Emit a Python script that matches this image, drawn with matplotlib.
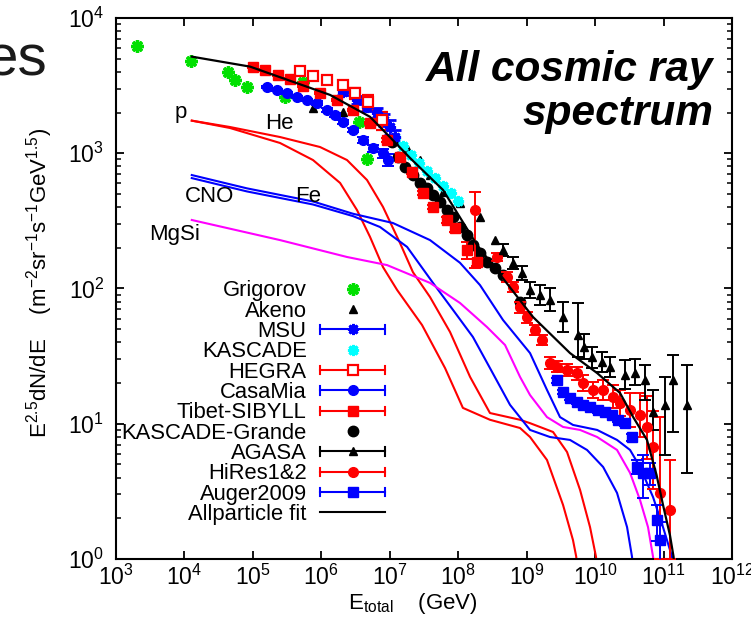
import numpy as np
import matplotlib
matplotlib.use("Agg")
import matplotlib.pyplot as plt
from matplotlib.lines import Line2D
from matplotlib.legend_handler import HandlerBase
from matplotlib.ticker import LogLocator, NullLocator, NullFormatter

plt.rcParams['font.family'] = ['Liberation Sans', 'DejaVu Sans']
plt.rcParams['mathtext.fontset'] = 'custom'
plt.rcParams['mathtext.rm'] = 'Liberation Sans'
plt.rcParams['mathtext.it'] = 'Liberation Sans:italic'
plt.rcParams['mathtext.bf'] = 'Liberation Sans:bold'
plt.rcParams['mathtext.default'] = 'regular'

# ---------------- data ----------------
grig_E = [2.0e3, 1.23e4, 4.3e4, 5.5e4, 8.1e4, 2.95e5, 5.4e5, 3.6e6, 4.6e6]
grig_F = [6240, 4810, 3970, 3480, 3080, 2610, 3370, 1700, 900]

akeno_E = [7.55e5, 2.07e6, 1.85e7, 2.77e7, 3.87e7, 6.0e7, 1.06e8, 2.08e8, 3.45e8]
akeno_F = [2160, 2020, 1057, 891, 690, 517, 428, 338, 228]

msu_E = [2.07e6, 3.32e6, 4.65e6, 6.5e6, 8.24e6, 1.01e7, 1.19e7]
msu_F = [2840, 2480, 2200, 1990, 1760, 1560, 1320]
msu_rel = [0.05, 0.06, 0.07, 0.08, 0.10, 0.12, 0.12]

kascade_E = [1.19e7, 1.56e7, 2.04e7, 2.67e7, 3.50e7, 4.58e7, 6.0e7, 7.85e7, 9.94e7]
kascade_F = [1300, 1130, 971, 847, 739, 656, 573, 508, 444]

hegra_E = [4.9e5, 7.55e5, 1.21e6, 2.07e6, 3.1e6, 4.81e6, 7.7e6]
hegra_F = [4060, 3720, 3480, 3200, 2790, 2390, 1760]
hegra_rel = [0.03, 0.04, 0.05, 0.07, 0.09, 0.12, 0.15]

casamia_E = [1.61e5, 2.25e5, 3.15e5, 4.42e5, 6.18e5, 8.65e5, 1.21e6, 1.58e6,
             2.07e6, 2.9e6, 4.06e6, 5.69e6, 7.96e6, 9.4e6]
casamia_F = [3090, 2940, 2790, 2610, 2480, 2350, 2090, 1920, 1700, 1490, 1250,
             1090, 1000, 891]
casamia_rel = [0.02, 0.02, 0.02, 0.02, 0.02, 0.03, 0.03, 0.03, 0.04, 0.04,
               0.05, 0.06, 0.08, 0.10]

tibet_E = [1.0e5, 1.5e5, 2.33e5, 3.49e5, 5.4e5, 9.57e5, 1.69e6, 2.9e6, 5.14e6,
           9.12e6, 1.41e7, 2.12e7, 3.06e7, 4.28e7, 6.86e7, 8.97e7, 1.34e8, 1.88e8]
tibet_F = [4350, 4130, 3790, 3540, 3140, 2790, 2480, 2090, 1670, 1250, 938, 726,
           508, 401, 321, 280, 193, 157]
tibet_rel = [0.02, 0.02, 0.02, 0.02, 0.02, 0.02, 0.02, 0.02, 0.02, 0.03, 0.03,
             0.03, 0.04, 0.04, 0.05, 0.06, 0.15, 0.06]

kg_E = [1.08e7, 1.32e7, 1.67e7, 2.19e7, 2.77e7, 3.50e7, 4.28e7, 5.42e7, 6.86e7,
        8.4e7, 1.06e8, 1.34e8, 1.64e8, 2.08e8, 2.63e8, 3.45e8, 4.51e8, 8.0e8]
kg_F = [1210, 938, 791, 690, 603, 553, 491, 436, 380, 338, 285, 249, 210, 183,
        157, 142, 126, 79.4]

agasa_E = [4.51e8, 6.31e8, 8.55e8, 1.12e9, 1.57e9, 2.19e9, 3.40e9, 5.62e9, 6.89e9,
           9.0e9, 1.26e10, 1.65e10, 2.74e10, 3.83e10, 5.36e10, 7.02e10, 1.05e11,
           1.37e11, 2.2e11]
agasa_F = [193, 155, 130, 97.5, 89.5, 82.2, 61.5, 45.3, 36.9, 31.2, 28.6, 26.3,
           22.9, 23.7, 21.0, 12.2, 13.8, 21.0, 13.8]
agasa_lo = [175, 140, 115, 85, 75, 68, 48, 31, 30, 26, 24, 22, 18, 19.5, 15,
            9.0, 5.9, 8.7, 4.3]
agasa_hi = [213, 172, 147, 112, 107, 100, 80, 78, 46, 37, 34, 31, 29.6, 30, 27,
            17.8, 22.2, 32.2, 27.2]

hires_E = [1.76e8, 3.69e8, 5.17e8, 6.31e8, 8.0e8, 1.01e9, 1.32e9, 1.68e9, 2.19e9,
           2.78e9, 3.89e9, 5.44e9, 6.66e9, 9.3e9, 1.31e10, 1.83e10, 2.31e10,
           3.24e10, 4.53e10, 5.73e10, 7.02e10, 8.87e10, 1.24e11]
hires_F = [380, 171, 122, 103, 73, 61.5, 49.3, 41.6, 28.1, 26.3, 25.0, 23.7, 20.0,
           17.8, 17.8, 15.8, 14.3, 12.6, 11.6, 9.47, 6.73, 3.08, 2.30]
hires_lo = [142, 160, 112, 95, 66, 56, 45, 38, 25.5, 24, 22.5, 21, 17.5, 15.5, 15,
            13, 11.5, 9.5, 8.0, 5.5, 3.3, 1.0, 1.0]
hires_hi = [517, 183, 133, 112, 80, 67, 54, 45.5, 31, 29, 27.7, 26.5, 23, 20.5,
            21, 19.2, 17.8, 17.0, 17.0, 16, 12.5, 11.2, 5.4]

auger_E = [2.78e9, 3.40e9, 4.30e9, 5.44e9, 6.66e9, 8.43e9, 1.10e10, 1.40e10,
           1.77e10, 2.16e10, 2.74e10, 3.46e10, 4.10e10, 5.01e10, 6.34e10, 8.02e10,
           8.87e10]
auger_F = [21.0, 17.2, 15.5, 14.5, 13.8, 13.3, 12.6, 12.2, 11.6, 10.7, 10.1, 7.98,
           4.79, 4.33, 4.33, 1.94, 1.38]
auger_rel = [0.04, 0.04, 0.04, 0.04, 0.04, 0.04, 0.04, 0.04, 0.04, 0.04, 0.05,
             0.06, 0.12, 0.35, 0.18, 0.3, 0.35]

fit_E = [1.28e4, 9.1e4, 1.34e6, 5.14e6, 1.11e7, 1.98e7, 6.0e7, 1.88e8, 1.24e9,
         4.30e9, 1.07e10, 2.31e10, 3.6e10, 5.73e10, 7.9e10, 9.82e10, 1.24e11,
         1.4e11, 1.45e11]
fit_F = [5180, 4370, 2700, 1860, 1250, 922, 535, 210, 61.5, 33.3, 23.7, 16.9,
         11.2, 7.59, 4.18, 2.51, 1.50, 1.04, 0.8]

p_E = [1.28e4, 4.63e4, 2.49e5, 7.55e5, 1.88e6, 3.32e6, 5.14e6, 7.96e6, 1.28e7,
       2.96e7, 6.42e7, 1.17e8, 2.91e8, 8.0e8, 1.12e9, 1.98e9, 3.40e9, 4.75e9,
       5.3e9, 5.5e9]
p_F = [1742, 1537, 1191, 891, 603, 380, 241, 144, 97.5, 53.7, 25.8, 13.1, 10.7,
       9.3, 7.98, 5.40, 2.51, 1.38, 1.04, 0.8]

he_E = [1.28e4, 4.63e4, 2.49e5, 9.57e5, 2.37e6, 4.65e6, 7.96e6, 1.41e7, 2.18e7,
        3.87e7, 7.59e7, 1.49e8, 2.91e8, 8.0e8, 1.12e9, 2.43e9, 3.89e9, 6.03e9,
        8.43e9, 1.03e10, 1.08e10]
he_F = [1742, 1563, 1318, 1112, 891, 634, 401, 217, 132, 86.5, 47.7, 22.2, 12.0,
        10.7, 10.1, 8.69, 6.18, 3.24, 1.72, 1.04, 0.8]

cno_E = [1.28e4, 8.2e4, 7.55e5, 2.90e6, 7.19e6, 1.79e7, 4.28e7, 8.40e7, 1.64e8,
         2.91e8, 5.71e8, 1.12e9, 2.19e9, 4.30e9, 7.62e9, 1.31e10, 2.09e10,
         2.93e10, 3.46e10, 3.6e10]
cno_F = [655, 522, 418, 343, 285, 203, 110, 69.4, 43.8, 25.8, 13.8, 9.0, 7.98,
         7.59, 6.40, 4.79, 3.08, 1.72, 1.04, 0.8]

fe_E = [1.28e4, 8.2e4, 7.55e5, 2.90e6, 1.11e7, 3.87e7, 1.06e8, 2.08e8, 4.51e8,
        1.12e9, 1.98e9, 3.07e9, 4.75e9, 1.07e10, 2.09e10, 3.24e10, 4.53e10,
        7.02e10, 9.82e10, 1.33e11, 1.4e11]
fe_F = [690, 550, 440, 357, 305, 228, 155, 106, 58.5, 33.3, 17.8, 11.2, 9.80,
        9.00, 7.59, 6.40, 4.79, 2.87, 1.72, 1.04, 0.8]

mgsi_E = [1.28e4, 2.49e5, 2.37e6, 9.12e6, 3.87e7, 1.06e8, 2.63e8, 4.83e8, 8.0e8,
          1.12e9, 1.98e9, 3.40e9, 6.03e9, 1.07e10, 2.09e10, 3.24e10, 4.53e10,
          5.93e10, 7.02e10, 7.3e10]
mgsi_F = [321, 228, 171, 149, 110, 78.2, 51.9, 38.2, 22.2, 16.3, 11.2, 9.47, 9.00,
          7.98, 6.40, 4.33, 2.73, 1.72, 1.04, 0.8]

legend_labels = ["Grigorov", "Akeno", "MSU", "KASCADE", "HEGRA", "CasaMia",
                 "Tibet-SIBYLL", "KASCADE-Grande", "AGASA", "HiRes1&2",
                 "Auger2009", "Allparticle fit"]

# ---------------- styling ----------------
RED, BLUE, MAG, GRN, CYN, BLK = '#ff0000', '#0000ff', '#ff00ff', '#00e000', '#00ffff', '#000000'
AST = (8, 2, 0)

fig = plt.figure(figsize=(7.51, 6.23), dpi=100)
ax = fig.add_axes([0.15446, 0.10273, 0.82024, 0.86838])
ax.set_xscale('log')
ax.set_yscale('log')
ax.set_xlim(1e3, 1e12)
ax.set_ylim(1, 1e4)

# component curves
lw_c = 1.5
ax.plot(p_E, p_F, color=RED, lw=lw_c, zorder=2)
ax.plot(he_E, he_F, color=RED, lw=lw_c, zorder=2)
ax.plot(cno_E, cno_F, color=BLUE, lw=lw_c, zorder=2)
ax.plot(fe_E, fe_F, color=BLUE, lw=lw_c, zorder=2)
ax.plot(mgsi_E, mgsi_F, color=MAG, lw=lw_c, zorder=2)


def rel_err(F, rel):
    F = np.asarray(F, float)
    r = np.asarray(rel, float)
    return [F * r, F * r]


def abs_err(F, lo, hi):
    F = np.asarray(F, float)
    return [F - np.asarray(lo, float), np.asarray(hi, float) - F]


eb = dict(elinewidth=1.4, capthick=1.4, capsize=4.5, linestyle='none', zorder=3)

ax.plot(grig_E, grig_F, linestyle='none', marker=AST, ms=9, mew=2.4, color=GRN, zorder=3)
ax.plot(akeno_E, akeno_F, linestyle='none', marker='^', ms=5.5, color=BLK, zorder=3)
ax.errorbar(casamia_E, casamia_F, yerr=rel_err(casamia_F, casamia_rel), marker='o',
            ms=7, color=BLUE, **eb)
ax.errorbar(msu_E, msu_F, yerr=rel_err(msu_F, msu_rel), marker=AST, ms=8, mew=2.0,
            color=BLUE, **eb)
ax.errorbar(hegra_E, hegra_F, yerr=rel_err(hegra_F, hegra_rel), marker='s', ms=7.5,
            mfc='white', mec=RED, mew=1.6, color=RED, **eb)
ax.errorbar(tibet_E, tibet_F, yerr=rel_err(tibet_F, tibet_rel), marker='s', ms=7,
            color=RED, **eb)
ax.plot(kascade_E, kascade_F, linestyle='none', marker=AST, ms=8, mew=2.2, color=CYN, zorder=3)
ax.plot(kg_E, kg_F, linestyle='none', marker='o', ms=7.5, color=BLK, zorder=3)
ax.errorbar(hires_E, hires_F, yerr=abs_err(hires_F, hires_lo, hires_hi), marker='o',
            ms=7, color=RED, **eb)
ax.errorbar(agasa_E, agasa_F, yerr=abs_err(agasa_F, agasa_lo, agasa_hi), marker='^',
            ms=5.5, color=BLK, **eb)
ax.errorbar(auger_E, auger_F, yerr=rel_err(auger_F, auger_rel), marker='s', ms=7,
            color=BLUE, **eb)

# all-particle fit on top
ax.plot(fit_E, fit_F, color=BLK, lw=1.6, zorder=5)

# component labels
lab_kw = dict(fontsize=16, va='baseline', ha='left', zorder=6)
ax.text(7.28e3, 1820, "p", **lab_kw)
ax.text(1.50e5, 1510, "He", **lab_kw)
ax.text(1.02e4, 436, "CNO", **lab_kw)
ax.text(4.12e5, 436, "Fe", **lab_kw)
ax.text(3.03e3, 228, "MgSi", **lab_kw)

# title
ax.text(0.969, 0.941, "All cosmic ray\nspectrum", transform=ax.transAxes,
        ha='right', va='top', fontsize=30.5, fontweight='bold', style='italic',
        linespacing=1.12, multialignment='right', zorder=7)


# ---------------- legend ----------------
class HBarHandler(HandlerBase):
    def __init__(self, bar=False, line=False):
        super().__init__()
        self.bar = bar
        self.line = line

    def create_artists(self, legend, orig_handle, xdescent, ydescent, width,
                       height, fontsize, trans):
        y = height / 2 - ydescent
        x0, x1 = -xdescent, width - xdescent
        col = orig_handle.get_color()
        arts = []
        if self.bar or self.line:
            arts.append(Line2D([x0, x1], [y, y], color=col, lw=1.5))
        if self.bar:
            h = 3.0
            for xx in (x0, x1):
                arts.append(Line2D([xx, xx], [y - h, y + h], color=col, lw=1.5))
        mk = orig_handle.get_marker()
        if mk not in (None, 'None', '', ' '):
            arts.append(Line2D([(x0 + x1) / 2], [y], marker=mk,
                               ms=orig_handle.get_markersize(),
                               mfc=orig_handle.get_markerfacecolor(),
                               mec=orig_handle.get_markeredgecolor(),
                               mew=orig_handle.get_markeredgewidth(),
                               linestyle='none'))
        for a in arts:
            a.set_transform(trans)
        return arts


def proxy(color, marker=None, ms=7, mfc=None, mew=1.0):
    return Line2D([], [], color=color, marker=marker if marker is not None else 'None',
                  ms=ms, mfc=mfc if mfc is not None else color, mec=color, mew=mew,
                  linestyle='none')


handles = [
    proxy(GRN, AST, 9, mew=2.4),
    proxy(BLK, '^', 5.5),
    proxy(BLUE, AST, 8, mew=2.0),
    proxy(CYN, AST, 8, mew=2.2),
    proxy(RED, 's', 7.5, mfc='white', mew=1.6),
    proxy(BLUE, 'o', 7),
    proxy(RED, 's', 7),
    proxy(BLK, 'o', 7.5),
    proxy(BLK, '^', 5.5),
    proxy(RED, 'o', 7),
    proxy(BLUE, 's', 7),
    proxy(BLK, None),
]
bars = [False, False, True, False, True, True, True, False, True, True, True, False]
hmap = {}
for h, b in zip(handles, bars):
    hmap[h] = HBarHandler(bar=b, line=False)
hmap[handles[-1]] = HBarHandler(bar=False, line=True)

ax.legend(handles, legend_labels, handler_map=hmap, loc='upper right',
          bbox_to_anchor=(0.4367, 0.515), frameon=False, markerfirst=False,
          fontsize=15.8, handlelength=2.95, handletextpad=0.62, labelspacing=-0.03,
          borderpad=0, borderaxespad=0)

# ---------------- axes cosmetics ----------------
for s in ax.spines.values():
    s.set_linewidth(1.5)
ax.xaxis.set_major_locator(LogLocator(base=10, numticks=20))
ax.xaxis.set_minor_locator(NullLocator())
ax.yaxis.set_major_locator(LogLocator(base=10, numticks=20))
ax.yaxis.set_minor_locator(LogLocator(base=10, subs=np.arange(2, 10), numticks=20))
ax.yaxis.set_minor_formatter(NullFormatter())
ax.tick_params(which='both', direction='in', top=True, right=True)
ax.tick_params(which='major', length=6, width=1.3, labelsize=16.5)
ax.tick_params(which='minor', length=3.5, width=1.1)
ax.tick_params(axis='x', pad=4)
ax.tick_params(axis='y', pad=8.5)

fig.text(40 / 751, 1 - 283 / 623,
         r"E$^{2.5}$dN/dE    (m$^{-2}$sr$^{-1}$s$^{-1}$GeV$^{1.5}$)",
         rotation=90, ha='center', va='center', fontsize=16)
fig.text(413 / 751, 1 - 604 / 623, r"E$_{total}$    (GeV)", ha='center',
         va='center', fontsize=16)

fig.text(47 / 751, 1 - 75 / 623, "es", ha='right', va='baseline', fontsize=42,
         color='#1a1a1a')

fig.savefig("out.png", dpi=100)
